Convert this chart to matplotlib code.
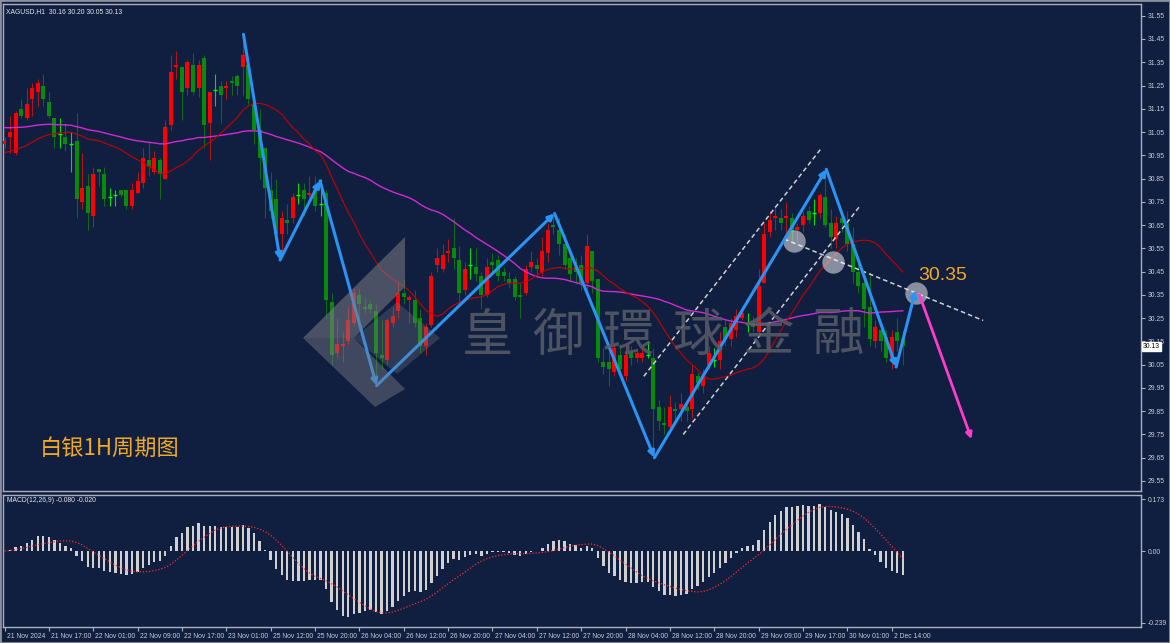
import numpy as np
import pandas as pd
import matplotlib
matplotlib.use('Agg')
import matplotlib.pyplot as plt
import matplotlib.transforms as mtransforms
from matplotlib import font_manager
from matplotlib.patches import Polygon

# XAGUSD H1 candles (open, high, low, close)
opens = [31.00, 31.03, 30.96, 31.15, 31.11, 31.19, 31.22, 31.25, 31.18, 31.11,
         31.04, 31.03, 31.00, 31.01, 30.75, 30.82, 30.69, 30.89, 30.87, 30.77,
         30.78, 30.80, 30.80, 30.73, 30.79, 30.83, 30.93, 30.88, 30.93, 30.85,
         31.08, 31.33, 31.33, 31.24, 31.34, 31.24, 31.37, 31.09, 31.23, 31.25,
         31.24, 31.27, 31.29, 31.33, 31.34, 31.17, 31.06, 30.98, 30.80, 30.76,
         30.61, 30.67, 30.68, 30.78, 30.80, 30.78, 30.80, 30.74, 30.79, 30.32,
         30.10, 30.13, 30.15, 30.23, 30.35, 30.30, 30.31, 30.28, 30.09, 30.07,
         30.23, 30.28, 30.36, 30.33, 30.33, 30.25, 30.13, 30.22, 30.48, 30.46,
         30.53, 30.55, 30.50, 30.37, 30.48, 30.47, 30.43, 30.35, 30.49, 30.50,
         30.45, 30.42, 30.42, 30.35, 30.36, 30.47, 30.48, 30.45, 30.53, 30.65,
         30.63, 30.57, 30.51, 30.47, 30.48, 30.40, 30.54, 30.42, 30.06, 30.06,
         30.02, 30.09, 30.00, 30.10, 30.08, 30.08, 30.09, 30.08, 29.87, 29.80,
         29.78, 29.86, 29.86, 29.87, 29.86, 30.00, 29.96, 30.05, 30.07, 30.07,
         30.21, 30.16, 30.20, 30.25, 30.23, 30.23, 30.19, 30.40, 30.62, 30.68,
         30.68, 30.68, 30.68, 30.63, 30.65, 30.71, 30.70, 30.70, 30.77, 30.66,
         30.59, 30.68, 30.66, 30.57, 30.45, 30.40, 30.30, 30.15, 30.20, 30.17,
         30.08, 30.19, 30.16]
highs = [31.03, 31.12, 31.14, 31.19, 31.24, 31.26, 31.28, 31.30, 31.22, 31.11,
         31.11, 31.09, 31.05, 31.13, 30.96, 30.87, 30.90, 30.89, 30.90, 30.81,
         30.80, 30.80, 30.80, 30.83, 30.88, 30.98, 31.01, 30.97, 30.94, 31.10,
         31.38, 31.40, 31.33, 31.36, 31.39, 31.36, 31.38, 31.22, 31.30, 31.27,
         31.27, 31.29, 31.30, 31.47, 31.36, 31.18, 31.15, 30.98, 30.88, 30.85,
         30.71, 30.74, 30.79, 30.83, 30.83, 30.86, 30.86, 30.85, 30.80, 30.36,
         30.25, 30.19, 30.30, 30.38, 30.38, 30.34, 30.33, 30.31, 30.24, 30.25,
         30.30, 30.41, 30.42, 30.35, 30.37, 30.29, 30.23, 30.45, 30.55, 30.57,
         30.59, 30.68, 30.56, 30.49, 30.55, 30.55, 30.45, 30.51, 30.53, 30.52,
         30.47, 30.45, 30.43, 30.40, 30.48, 30.54, 30.51, 30.60, 30.66, 30.69,
         30.68, 30.61, 30.54, 30.51, 30.52, 30.61, 30.54, 30.42, 30.12, 30.12,
         30.14, 30.14, 30.13, 30.13, 30.11, 30.13, 30.15, 30.12, 29.90, 29.87,
         29.92, 29.89, 29.93, 29.90, 30.05, 30.02, 30.03, 30.13, 30.12, 30.19,
         30.24, 30.25, 30.29, 30.28, 30.27, 30.26, 30.46, 30.66, 30.71, 30.73,
         30.72, 30.75, 30.70, 30.66, 30.71, 30.73, 30.76, 30.79, 30.89, 30.72,
         30.69, 30.71, 30.71, 30.64, 30.50, 30.44, 30.45, 30.24, 30.23, 30.20,
         30.20, 30.25, 30.20]
lows = [30.98, 30.96, 30.95, 31.11, 31.10, 31.12, 31.16, 31.16, 31.11, 30.98,
        30.98, 30.97, 30.88, 30.68, 30.72, 30.63, 30.64, 30.82, 30.73, 30.73,
        30.73, 30.77, 30.72, 30.72, 30.79, 30.81, 30.86, 30.87, 30.76, 30.85,
        31.06, 31.28, 31.10, 31.21, 31.21, 31.20, 30.98, 30.93, 31.16, 31.09,
        31.19, 31.21, 31.21, 31.21, 31.17, 31.00, 30.85, 30.68, 30.68, 30.60,
        30.54, 30.61, 30.66, 30.74, 30.69, 30.77, 30.71, 30.69, 30.25, 30.05,
        30.08, 30.06, 30.14, 30.22, 30.23, 30.27, 30.27, 29.97, 30.03, 30.05,
        30.21, 30.25, 30.31, 30.23, 30.21, 30.10, 30.09, 30.21, 30.45, 30.45,
        30.49, 30.46, 30.32, 30.35, 30.42, 30.41, 30.29, 30.34, 30.45, 30.41,
        30.41, 30.38, 30.33, 30.25, 30.35, 30.45, 30.44, 30.43, 30.49, 30.61,
        30.52, 30.46, 30.41, 30.40, 30.37, 30.36, 30.36, 30.06, 30.01, 29.96,
        30.00, 30.01, 29.98, 30.05, 30.06, 30.06, 30.08, 29.65, 29.77, 29.75,
        29.77, 29.80, 29.81, 29.81, 29.82, 29.94, 29.93, 30.03, 30.04, 30.03,
        30.13, 30.13, 30.17, 30.24, 30.19, 30.19, 30.18, 30.40, 30.60, 30.63,
        30.63, 30.59, 30.58, 30.58, 30.62, 30.66, 30.65, 30.68, 30.64, 30.55,
        30.55, 30.62, 30.54, 30.40, 30.36, 30.21, 30.13, 30.12, 30.11, 30.06,
        30.03, 30.11, 30.05]
closes = [31.01, 31.05, 31.13, 31.12, 31.17, 31.24, 31.26, 31.19, 31.12, 31.03,
          31.04, 31.00, 31.00, 30.76, 30.81, 30.70, 30.87, 30.88, 30.76, 30.77,
          30.78, 30.78, 30.73, 30.80, 30.84, 30.94, 30.90, 30.94, 30.87, 31.07,
          31.31, 31.34, 31.22, 31.35, 31.22, 31.34, 31.08, 31.22, 31.23, 31.21,
          31.25, 31.26, 31.25, 31.38, 31.19, 31.06, 30.94, 30.81, 30.71, 30.61,
          30.68, 30.66, 30.77, 30.78, 30.76, 30.79, 30.73, 30.74, 30.33, 30.09,
          30.14, 30.14, 30.24, 30.36, 30.31, 30.29, 30.29, 30.10, 30.08, 30.24,
          30.26, 30.36, 30.34, 30.34, 30.23, 30.13, 30.21, 30.43, 30.51, 30.52,
          30.54, 30.51, 30.36, 30.46, 30.48, 30.44, 30.35, 30.47, 30.48, 30.43,
          30.43, 30.40, 30.34, 30.34, 30.46, 30.49, 30.46, 30.54, 30.63, 30.64,
          30.57, 30.48, 30.44, 30.45, 30.40, 30.56, 30.41, 30.08, 30.04, 30.03,
          30.12, 30.03, 30.09, 30.08, 30.10, 30.10, 30.09, 29.86, 29.81, 29.79,
          29.87, 29.85, 29.88, 29.85, 30.01, 29.97, 30.00, 30.10, 30.07, 30.15,
          30.16, 30.23, 30.26, 30.27, 30.23, 30.21, 30.39, 30.61, 30.67, 30.69,
          30.66, 30.69, 30.62, 30.64, 30.69, 30.67, 30.70, 30.78, 30.65, 30.60,
          30.66, 30.66, 30.57, 30.45, 30.39, 30.29, 30.16, 30.21, 30.15, 30.08,
          30.17, 30.15, 30.13]

tick_labels = ['21 Nov 2024', '21 Nov 17:00', '22 Nov 01:00', '22 Nov 09:00', '22 Nov 17:00',
               '23 Nov 01:00', '25 Nov 12:00', '25 Nov 20:00', '26 Nov 04:00', '26 Nov 12:00',
               '26 Nov 20:00', '27 Nov 04:00', '27 Nov 12:00', '27 Nov 20:00', '28 Nov 04:00',
               '28 Nov 12:00', '28 Nov 20:00', '29 Nov 09:00', '29 Nov 17:00', '30 Nov 01:00',
               '2 Dec 14:00']
price_ticks = [29.55, 29.65, 29.75, 29.85, 29.95, 30.05, 30.15, 30.25, 30.35, 30.45, 30.55,
               30.65, 30.75, 30.85, 30.95, 31.05, 31.15, 31.25, 31.35, 31.45, 31.55]

# MACD scale and readout as printed on the chart
macd_hi, macd_lo = 0.173, -0.239
macd_readout = (-0.080, -0.020)

# drawn analysis (bar index, price)
zigzag_bars = [43.1, 49.7, 56.9, 67.1, 99.2, 117.2, 148.2, 160.8, 164.3]
zigzag_prices = [31.47, 30.50, 30.84, 29.96, 30.70, 29.65, 30.89, 30.04, 30.37]
forecast_bars = [165.0, 174.4]
forecast_prices = [30.35, 29.73]
channel_up_bars, channel_up_prices = [115.3, 147.3], [30.00, 30.98]
channel_lo_bars, channel_lo_prices = [122.4, 154.2], [29.75, 30.73]
trend_bars, trend_prices = [140.6, 176.5], [30.59, 30.24]
circle_bars = [142.3, 149.5, 164.3]
circle_prices = [30.58, 30.49, 30.36]
target_level = 30.35

# MA seeds (value of each average at the left edge)
red_ma_seed, red_ma_period = 30.96, 21
mag_ma_seed, mag_ma_period = 31.07, 50

BG = '#101e40'
FG = '#c8ccd6'
SPINE = '#aab0bc'
installed = {f.name for f in font_manager.fontManager.ttflist}
if 'Liberation Sans Narrow' in installed:
    font, fs = ['Liberation Sans Narrow', 'DejaVu Sans'], 6.0
else:
    font, fs = ['Liberation Sans', 'DejaVu Sans'], 4.9
cjk = ['Noto Sans CJK SC', 'DejaVu Sans']

o = np.array(opens); h = np.array(highs); l = np.array(lows); c = np.array(closes)
n = len(c)
x = np.arange(n)

red_ma = pd.Series(np.r_[np.full(red_ma_period - 1, red_ma_seed), c]).rolling(red_ma_period).mean().values[red_ma_period - 1:]
mag_ma = pd.Series(np.r_[np.full(mag_ma_period - 1, mag_ma_seed), c]).rolling(mag_ma_period).mean().values[mag_ma_period - 1:]

cs = pd.Series(c)
macd = (cs.ewm(span=12, adjust=False).mean() - cs.ewm(span=26, adjust=False).mean()).values
signal = pd.Series(macd).rolling(9, min_periods=1).mean().values

W, H = 1170, 643
fig = plt.figure(figsize=(W / 100, H / 100), dpi=100, facecolor=BG)

def fr(x0, y0, x1, y1):
    return [x0 / W, 1 - y1 / H, (x1 - x0) / W, (y1 - y0) / H]

ax = fig.add_axes(fr(3, 4, 1141, 491))
ax2 = fig.add_axes(fr(3, 495, 1141, 627))
px = 5.545
xl = (-1.5 / px, (1141 - 4.5) / px)
for a in (ax, ax2):
    a.set_facecolor(BG)
    a.set_xlim(*xl)
    for s in a.spines.values():
        s.set_color(SPINE)
        s.set_linewidth(1)
    a.yaxis.tick_right()
    a.tick_params(axis='y', colors=SPINE, length=3, width=0.8, labelsize=fs, pad=2, labelcolor=FG)

ax.set_ylim(29.55 - (490.7 - 480.7) / 232.5, 31.55 + (15.7 - 4) / 232.5)
ax.set_yticks(price_ticks)
ax.set_yticklabels([f'{p:.2f}' for p in price_ticks], family=font)
ax.tick_params(axis='x', bottom=False, labelbottom=False)

# candles
up = c > o
dn = c < o
dj = c == o
ax.vlines(x[up], l[up], h[up], color='#b01818', lw=0.8, zorder=2)
ax.vlines(x[dn], l[dn], h[dn], color='#0b6a18', lw=0.8, zorder=2)
ax.vlines(x[dj], l[dj], h[dj], color='#00e000', lw=0.8, zorder=2)
bw = 0.72
ax.bar(x[up], np.maximum(c[up] - o[up], 0.004), bw, bottom=o[up], color='#ff0000', lw=0, zorder=3)
ax.bar(x[dn], np.maximum(o[dn] - c[dn], 0.004), bw, bottom=c[dn], color='#0a8a0a', lw=0, zorder=3)
ax.hlines(c[dj], x[dj] - bw / 2, x[dj] + bw / 2, color='#00ff00', lw=1, zorder=3)

ax.plot(x, mag_ma, color='#d22ad2', lw=1.0, zorder=4)
ax.plot(x, red_ma, color='#c80000', lw=0.8, zorder=4)

# watermark
wm_col = '#5a5d68'
logo = [
    ([(303, 338), (405, 237), (405, 287), (354, 338)], 0.55),
    ([(303, 338), (354, 338), (405, 389), (375, 407)], 0.45),
    ([(354, 338), (397, 302), (440, 338), (397, 374)], 0.30),
]
for pts, al in logo:
    fig.add_artist(Polygon([(px_ / W, 1 - py_ / H) for px_, py_ in pts], closed=True,
                           transform=fig.transFigure, facecolor='#7a7c84', alpha=al, lw=0, zorder=5))
for i, ch in enumerate('皇御環球金融'):
    fig.text((488 + 70 * i) / W, 1 - 336 / H, ch, fontsize=37, color=wm_col, alpha=0.85,
             ha='center', va='center', family=['Noto Sans CJK TC', 'DejaVu Sans'], zorder=5)

# analysis overlays
ax.plot(channel_up_bars, channel_up_prices, color='#d0d0d0', lw=1.1, ls=(0, (3, 2)), zorder=6)
ax.plot(channel_lo_bars, channel_lo_prices, color='#d0d0d0', lw=1.1, ls=(0, (3, 2)), zorder=6)
ax.plot(trend_bars, trend_prices, color='#d0d0d0', lw=1.1, ls=(0, (3, 2)), zorder=6)
ax.scatter(circle_bars, circle_prices, s=260, color='#ffffff', alpha=0.5, lw=0, zorder=7)
for i in range(len(zigzag_bars) - 1):
    ax.annotate('', xy=(zigzag_bars[i + 1], zigzag_prices[i + 1]), xytext=(zigzag_bars[i], zigzag_prices[i]),
                arrowprops=dict(arrowstyle='-|>', color='#2b93f2', lw=2.2, mutation_scale=9,
                                shrinkA=0, shrinkB=0), zorder=8)
ax.annotate('', xy=(forecast_bars[1], forecast_prices[1]), xytext=(forecast_bars[0], forecast_prices[0]),
            arrowprops=dict(arrowstyle='-|>', color='#ff3ccc', lw=2.0, mutation_scale=9,
                            shrinkA=0, shrinkB=0), zorder=8)
ax.text(164.8, target_level + 0.083, f'{target_level:.2f}', fontsize=14, color='#f2a922',
        ha='left', va='center', family=['Liberation Sans', 'DejaVu Sans'], zorder=9)
ax.text(37 / 1138, 29.69, '白银1H周期图', fontsize=16, color='#f2a922',
        ha='left', va='center', family=cjk, transform=mtransforms.blended_transform_factory(ax.transAxes, ax.transData), zorder=9)

ax.text(3 / 1138, 1 - 4 / 487, 'XAGUSD,H1  %.2f %.2f %.2f %.2f' % (o[-1], h[-1], l[-1], c[-1]),
        transform=ax.transAxes, fontsize=fs, color='#e8e8e8', ha='left', va='top', family=font)
ax.text(1.0 + 2 / 1138, c[-1], f'{c[-1]:.2f}', transform=mtransforms.blended_transform_factory(ax.transAxes, ax.transData),
        fontsize=fs, color='#000000', ha='left', va='center', family=font, zorder=10,
        bbox=dict(boxstyle='square,pad=0.15', facecolor='white', edgecolor='white'))

# MACD panel
ax2.bar(x, macd, 0.42, color='#d0d0d0', lw=0, zorder=2)
ax2.plot(x, signal, color='#ff2a2a', lw=0.9, ls=(0, (1, 1.5)), zorder=3)
sc = (macd_hi - macd_lo) / (622.7 - 499)
ax2.set_ylim(macd_lo - 4 * sc, macd_hi + 4 * sc)
ax2.set_yticks([macd_hi, 0, macd_lo])
ax2.set_yticklabels([f'{macd_hi:.3f}', '0.00', f'{macd_lo:.3f}'], family=font)
ax2.text(4 / 1138, 1 - 2 / 132, 'MACD(12,26,9) %.3f %.3f' % macd_readout, transform=ax2.transAxes,
         fontsize=fs, color='#e8e8e8', ha='left', va='top', family=font)

pos = np.arange(len(tick_labels)) * 8
ax2.set_xticks(pos)
ax2.set_xticklabels(tick_labels, family=font)
ax2.tick_params(axis='x', colors=SPINE, length=3, width=0.8, labelsize=fs, pad=1.5, labelcolor=FG)
off = mtransforms.ScaledTranslation(1.5 / 72, 0, fig.dpi_scale_trans)
for t in ax2.get_xticklabels():
    t.set_ha('left')
    t.set_transform(t.get_transform() + off)

fig.add_artist(plt.Rectangle((0, 0), 1, 1, transform=fig.transFigure, fill=False, edgecolor='#8a909c', lw=2))
fig.savefig('out.png', dpi=100, facecolor=BG)
